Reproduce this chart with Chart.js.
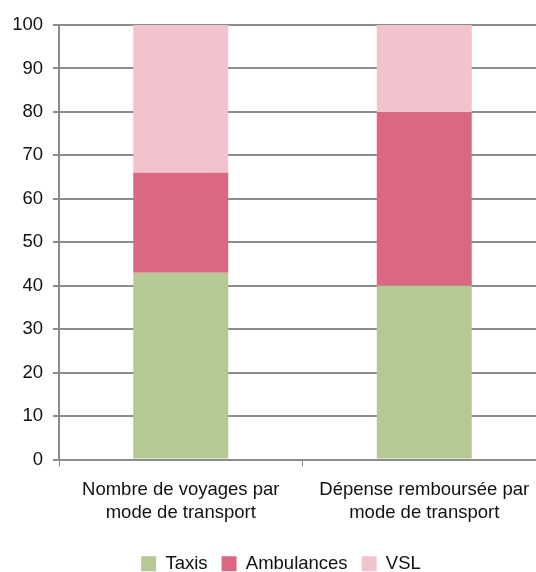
<!DOCTYPE html>
<html><head><meta charset="utf-8">
<script src="https://cdn.jsdelivr.net/npm/chart.js@4/dist/chart.umd.min.js"></script>
<style>
html,body{margin:0;padding:0;background:#fff;overflow:hidden;}
#wrap{position:relative;width:546px;height:583px;}
</style></head>
<body>
<div id="wrap"><canvas id="c"></canvas></div>
<script>
const categories = [["Nombre de voyages par","mode de transport"],["Dépense remboursée par","mode de transport"]];
const seriesNames = ["Taxis","Ambulances","VSL"];
const taxis = [43, 40];
const ambulances = [23, 40];
const vsl = [34, 20];
const colors = ["#b5c994","#db6880","#f2c2cd"];

Chart.defaults.font.family = "'Liberation Sans', Arial, sans-serif";
Chart.defaults.color = "#111";
const FS = 18.5;

const shiftLegend = {
  id: 'shiftLegend',
  afterLayout(chart) { chart.legend.left += 8; chart.legend.right += 8; }
};

new Chart(document.getElementById('c'), {
  type: 'bar',
  data: {
    labels: categories,
    datasets: [taxis, ambulances, vsl].map((d,i)=>({
      label: seriesNames[i], data: d, backgroundColor: colors[i],
      borderWidth: 0, categoryPercentage: 1, barPercentage: 0.39
    }))
  },
  plugins: [shiftLegend],
  options: {
    responsive: true, maintainAspectRatio: false, animation: false,
    layout: {padding: {top: 25, left: 0, right: 0, bottom: 0}},
    plugins: {
      legend: {position: 'bottom', labels: {boxWidth: 15, boxHeight: 15, font: {size: FS}, padding: 14, color: '#111'}},
      tooltip: {enabled: false}
    },
    scales: {
      x: {stacked: true,
        afterFit: s => { s.height = 81; },
        grid: {drawOnChartArea: false, drawTicks: true, tickLength: 7, color: '#8c8c8c', offset: true},
        border: {color: '#8c8c8c', width: 2},
        ticks: {font: {size: FS, lineHeight: 1.25}, color: '#111', padding: 12, maxRotation: 0}
      },
      y: {stacked: true, min: 0, max: 100,
        afterFit: s => { s.width = 59; },
        grid: {color: '#8c8c8c', lineWidth: 2, tickLength: 6},
        border: {color: '#8c8c8c', width: 2},
        ticks: {stepSize: 10, font: {size: FS}, color: '#111', padding: 10}
      }
    }
  }
});
</script>
</body></html>
